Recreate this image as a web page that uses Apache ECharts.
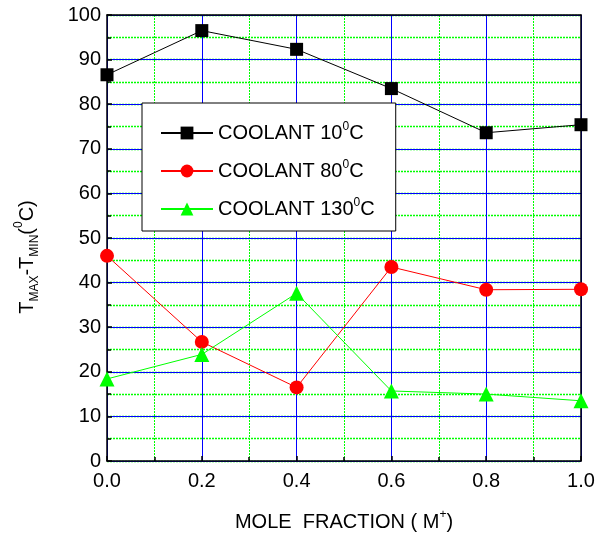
<!DOCTYPE html>
<html>
<head>
<meta charset="utf-8">
<script src="https://cdn.jsdelivr.net/npm/echarts@6/dist/echarts.min.js"></script>
<style>html,body{margin:0;padding:0;background:#fff}#c{width:605px;height:538px}</style>
</head>
<body>
<div id="c"></div>
<script>
// ---- data ----
const moleFraction = [0.0, 0.2, 0.4, 0.6, 0.8, 1.0];
const coolant10 = [86.6, 96.5, 92.3, 83.5, 73.6, 75.4];
const coolant80 = [46.0, 26.7, 16.5, 43.5, 38.4, 38.5];
const coolant130 = [18.4, 23.9, 37.6, 15.7, 15.0, 13.5];
const seriesNames = ['COOLANT 10⁰C', 'COOLANT 80⁰C', 'COOLANT 130⁰C'];
const legendTemps = ['10', '80', '130'];
const yTicks = [0, 10, 20, 30, 40, 50, 60, 70, 80, 90, 100];
const xTicks = [0.0, 0.2, 0.4, 0.6, 0.8, 1.0];

const FONT = '"Liberation Sans", Arial, sans-serif';
const pairs = (ys) => moleFraction.map((x, i) => [x, ys[i]]);

const chart = echarts.init(document.getElementById('c'), null, {renderer: 'canvas'});

const axisLineStyle = {color: '#000', width: 1.5};

// hidden axes that only draw the dotted green minor grid (drawn first, underneath)
const minorX = {
  type: 'value', min: 0, max: 1, interval: 0.1, z: -1,
  axisLine: {show: false}, axisTick: {show: false}, axisLabel: {show: false},
  splitLine: {show: true, lineStyle: {color: '#00ff00', width: 1, type: [2, 1]}}
};
const minorY = {
  type: 'value', min: 0, max: 100, interval: 5, z: -1,
  axisLine: {show: false}, axisTick: {show: false}, axisLabel: {show: false},
  splitLine: {show: true, lineStyle: {color: '#00ff00', width: 1.3, type: [2, 1]}}
};
const xMain = {
  type: 'value', min: 0, max: 1, interval: 0.2, position: 'bottom',
  axisLine: {show: true, onZero: false, lineStyle: axisLineStyle},
  axisTick: {show: true, inside: true, length: 5, lineStyle: {color: '#000', width: 1.5}},
  minorTick: {show: true, splitNumber: 2, length: 4, lineStyle: {color: '#000', width: 1.5}},
  axisLabel: {color: '#000', fontSize: 20, fontFamily: FONT, margin: 10,
    formatter: v => xTicks.includes(+v.toFixed(1)) ? v.toFixed(1) : ''},
  splitLine: {show: true, lineStyle: {color: '#0000ff', width: 1}},
  minorSplitLine: {show: false}
};
const yMain = {
  type: 'value', min: 0, max: 100, interval: 10, position: 'left',
  axisLine: {show: true, onZero: false, lineStyle: axisLineStyle},
  axisTick: {show: true, inside: true, length: 5, lineStyle: {color: '#000', width: 1.5}},
  minorTick: {show: true, splitNumber: 2, length: 4, lineStyle: {color: '#000', width: 1.5}},
  axisLabel: {color: '#000', fontSize: 20, fontFamily: FONT, margin: 6,
    formatter: v => yTicks.includes(v) ? String(v) : ''},
  splitLine: {show: true, lineStyle: {color: '#0000ff', width: 1}},
  minorSplitLine: {show: false}
};
const frameAxis = (pos, min, max) => ({
  type: 'value', position: pos, min: min, max: max,
  axisLine: {show: true, onZero: false, lineStyle: axisLineStyle},
  axisTick: {show: false}, axisLabel: {show: false}, splitLine: {show: false},
  minorTick: {show: false}, minorSplitLine: {show: false}
});

const option = {
  backgroundColor: '#fff',
  animation: false,
  grid: {left: 107, right: 24, top: 15, bottom: 77, containLabel: false},
  xAxis: [minorX, xMain, frameAxis('top', 0, 1)],
  yAxis: [minorY, yMain, frameAxis('right', 0, 100)],
  legend: {
    orient: 'vertical', left: 142, top: 103,
    padding: [18, 21, 10, 18],
    itemWidth: 52, itemHeight: 16, itemGap: 14,
    backgroundColor: '#fff', borderColor: '#000', borderWidth: 1,
    data: seriesNames,
    formatter: name => 'COOLANT ' + legendTemps[seriesNames.indexOf(name)] + '{sup|0}C',
    textStyle: {color: '#000', fontSize: 20, fontFamily: FONT, lineHeight: 24,
      rich: {sup: {fontSize: 12, fontFamily: FONT, verticalAlign: 'top', lineHeight: 14, color: '#000'}}}
  },
  series: [
    {name: seriesNames[0], type: 'line', xAxisIndex: 1, yAxisIndex: 1, data: pairs(coolant10),
      symbol: 'rect', symbolSize: 13,
      itemStyle: {color: '#000'}, lineStyle: {color: '#000', width: 1}},
    {name: seriesNames[1], type: 'line', xAxisIndex: 1, yAxisIndex: 1, data: pairs(coolant80),
      symbol: 'circle', symbolSize: 14,
      itemStyle: {color: '#ff0000'}, lineStyle: {color: '#ff0000', width: 1}},
    {name: seriesNames[2], type: 'line', xAxisIndex: 1, yAxisIndex: 1, data: pairs(coolant130),
      symbol: 'triangle', symbolSize: 15,
      itemStyle: {color: '#00ff00'}, lineStyle: {color: '#00ff00', width: 1}}
  ],
  graphic: [
    {type: 'text', x: 344, y: 522, z: 10,
      style: {text: 'MOLE  FRACTION ( M{sup|+})', align: 'center', verticalAlign: 'middle',
        fill: '#000', fontSize: 20, fontFamily: FONT, lineHeight: 26,
        rich: {sup: {fontSize: 12, fontFamily: FONT, verticalAlign: 'top', lineHeight: 14, fill: '#000'}}}},
    {type: 'text', x: 27, y: 257, rotation: Math.PI / 2, z: 10,
      style: {text: 'T{sub|MAX}-T{sub|MIN}({sup|0}C)', align: 'center', verticalAlign: 'middle',
        fill: '#000', fontSize: 20, fontFamily: FONT, lineHeight: 28,
        rich: {
          sub: {fontSize: 12, fontFamily: FONT, verticalAlign: 'bottom', lineHeight: 12, fill: '#000'},
          sup: {fontSize: 12, fontFamily: FONT, verticalAlign: 'top', lineHeight: 14, fill: '#000'}
        }}}
  ]
};
chart.setOption(option);
</script>
</body>
</html>
